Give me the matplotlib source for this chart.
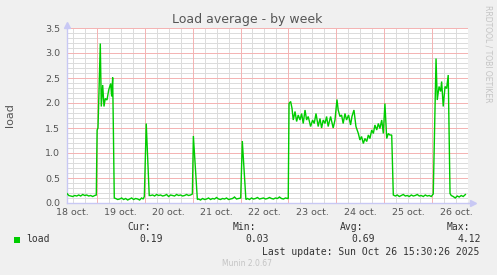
import numpy as np
import pandas as pd
import matplotlib
matplotlib.use('Agg')
import matplotlib.pyplot as plt
import matplotlib.dates as mdates
from matplotlib.patches import Rectangle
from matplotlib.ticker import MultipleLocator, FormatStrFormatter

# ---- data: hours since 2025-10-18 00:00 and load values ----
hours = [
    9.1, 10, 11, 12, 13, 14, 15, 16, 17, 18, 19, 20, 21, 22, 23, 23.8,
    24.2, 24.65, 25.8, 26.3, 27.0, 27.65, 28.3, 29.15, 30.0, 31.0, 31.5, 32.0, 32.8,
    33.5, 34.5, 35.5, 36.5, 37.5, 38.5, 39.5, 40.5, 41.5, 42.5, 43.5, 44.5, 45.5, 46.5, 47.3, 47.85,
    48.8, 50.3,
    51, 52, 53, 54, 55, 56, 57, 58, 59, 60, 61, 62, 63, 64, 65, 66, 67, 68, 69, 70, 71, 71.9,
    72.4, 74.4,
    75, 76, 77, 78, 79, 80, 81, 82, 83, 84, 85, 86, 87, 88, 89, 90, 91, 92, 93, 94, 95, 96.1,
    96.9, 98.7,
    99.5, 100.5, 101.5, 102.5, 103.5, 104.5, 105.5, 106.5, 107.5, 108.5, 109.5, 110.5,
    111.5, 112.5, 113.5, 114.5, 115.5, 116.5, 117.5, 118.5, 119.5, 119.9,
    120.3, 121.1, 121.8, 122.4, 123.3, 124.1, 124.9, 125.8, 126.6, 127.4, 128.3, 129.1,
    129.9, 131.1, 132.1, 132.9, 133.8, 134.9, 135.8, 136.6, 137.4, 138.3, 139.1, 139.9,
    141.1, 142.4, 143.3, 144.3, 144.9, 145.8, 146.6, 147.4, 148.3, 149.1, 150.1, 151.1,
    151.8, 152.8, 153.8, 155.0, 155.8, 156.6, 157.5, 158.3, 159.2, 160.0, 160.8, 161.7,
    162.5, 163.3, 164.2, 165.0, 165.8, 166.7, 167.5, 168.3, 169.2, 170.0, 170.8, 171.7,
    172.5,
    173.5, 174.5, 175.5, 176.5, 177.5, 178.5, 179.5, 180.5, 181.5, 182.5, 183.5, 184.5,
    185.5, 186.5, 187.5, 188.5, 189.5, 190.5, 191.5, 192.5,
    193.9, 194.5, 195.4, 196.2, 196.7, 197.5, 198.4, 199.2, 200.0, 200.9,
    201.5, 202.5, 203.5, 204.5, 205.5, 206.5, 207.5, 208.6,
]
load = [
    0.19, 0.15, 0.14, 0.13, 0.15, 0.14, 0.16, 0.14, 0.17, 0.15, 0.16, 0.14, 0.15, 0.13, 0.15, 0.16,
    1.46, 1.50, 3.19, 1.93, 2.36, 1.93, 2.09, 2.06, 2.26, 2.39, 2.13, 2.51, 0.10,
    0.09, 0.07, 0.08, 0.10, 0.07, 0.09, 0.06, 0.08, 0.10, 0.07, 0.09, 0.08, 0.06, 0.10, 0.08, 0.13,
    1.59, 0.15,
    0.15, 0.16, 0.14, 0.17, 0.15, 0.16, 0.14, 0.15, 0.17, 0.13, 0.16, 0.15, 0.14, 0.17, 0.15, 0.16,
    0.14, 0.15, 0.17, 0.15, 0.16, 0.18,
    1.34, 0.07,
    0.08, 0.06, 0.09, 0.07, 0.08, 0.10, 0.07, 0.09, 0.08, 0.11, 0.08, 0.07, 0.09, 0.08, 0.10, 0.07,
    0.08, 0.09, 0.12, 0.08, 0.09, 0.10,
    1.24, 0.07,
    0.09, 0.07, 0.10, 0.08, 0.09, 0.11, 0.08, 0.09, 0.10, 0.08, 0.09, 0.11,
    0.09, 0.08, 0.10, 0.09, 0.12, 0.09, 0.08, 0.10, 0.09, 0.09,
    1.99, 2.03, 1.89, 1.66, 1.83, 1.63, 1.76, 1.66, 1.79, 1.59, 1.86, 1.66,
    1.73, 1.53, 1.66, 1.59, 1.79, 1.53, 1.69, 1.50, 1.66, 1.59, 1.73, 1.53,
    1.73, 1.50, 1.66, 2.07, 1.86, 1.73, 1.76, 1.59, 1.79, 1.66, 1.76, 1.56,
    1.73, 1.86, 1.53, 1.39, 1.26, 1.33, 1.19, 1.29, 1.23, 1.36, 1.29, 1.46,
    1.39, 1.56, 1.46, 1.59, 1.49, 1.66, 1.39, 1.99, 1.29, 1.39, 1.36, 1.36,
    0.16,
    0.14, 0.16, 0.13, 0.15, 0.17, 0.14, 0.15, 0.13, 0.16, 0.14, 0.15, 0.17,
    0.14, 0.15, 0.13, 0.16, 0.14, 0.15, 0.13, 0.18,
    2.89, 2.06, 2.33, 2.23, 2.43, 1.93, 2.33, 2.29, 2.56, 0.19,
    0.15, 0.13, 0.10, 0.14, 0.12, 0.15, 0.13, 0.17,
]
x_range_hours = [9.13, 209.9]
y_range = [0.0, 3.5]

title = 'Load average - by week'
ylabel = 'load'
legend_name = 'load'
stats_labels = ['Cur:', 'Min:', 'Avg:', 'Max:']
stats_values = ['0.19', '0.03', '0.69', '4.12']
last_update = 'Last update: Sun Oct 26 15:30:26 2025'
version = 'Munin 2.0.67'
watermark = 'RRDTOOL / TOBI OETIKER'

# ---- figure ----
W, H = 497, 275
BG = '#F0F0F0'
GREEN = '#00CC00'
TXT = '#555555'
fig = plt.figure(figsize=(W / 100, H / 100), dpi=100, facecolor=BG)
L, R, T, B = 67, 468, 28, 203
ax = fig.add_axes([L / W, 1 - B / H, (R - L) / W, (B - T) / H])
ax.set_facecolor('white')

start = pd.Timestamp('2025-10-18 00:00')
times = start + pd.to_timedelta(np.array(hours), unit='h')
ax.plot(times, load, color=GREEN, lw=1.0, zorder=4, solid_joinstyle='miter')

xmin = start + pd.Timedelta(hours=x_range_hours[0])
xmax = start + pd.Timedelta(hours=x_range_hours[1])
ax.set_xlim(xmin, xmax)
ax.set_ylim(*y_range)

dot = (0, (1, 1))
red = '#F4B4B4'
grey = '#DCDCDC'
gkw = dict(lw=0.72, linestyle=dot, antialiased=False)

# x: labels at noon, grey grid every 6 h, red lines at midnight
ax.xaxis.set_major_locator(mdates.HourLocator(byhour=[12]))
ax.xaxis.set_major_formatter(mdates.DateFormatter('%d oct.'))
ax.xaxis.set_minor_locator(mdates.HourLocator(byhour=[6, 18]))
ax.grid(True, which='major', axis='x', color=grey, zorder=1, **gkw)
ax.grid(True, which='minor', axis='x', color=grey, zorder=1, **gkw)
for d in pd.date_range(start, xmax, freq='D'):
    if d > xmin:
        ax.axvline(d, color=red, zorder=2, **gkw)

# y: red every 0.5, grey every 0.1
ax.yaxis.set_major_locator(MultipleLocator(0.5))
ax.yaxis.set_minor_locator(MultipleLocator(0.1))
ax.yaxis.set_major_formatter(FormatStrFormatter('%.1f'))
ax.grid(True, which='major', axis='y', color=red, zorder=2, **gkw)
ax.grid(True, which='minor', axis='y', color=grey, zorder=1, **gkw)
ax.set_axisbelow(True)

ax.tick_params(axis='both', which='both', length=0, labelsize=6.8, labelcolor=TXT)
ax.tick_params(axis='y', pad=5)
ax.tick_params(axis='x', pad=3.5)

for s in ['top', 'right']:
    ax.spines[s].set_visible(False)
AX = '#C8C8F4'
for s in ['left', 'bottom']:
    ax.spines[s].set_color(AX)
    ax.spines[s].set_linewidth(1.0)
# axis extensions with arrows
ax.plot([1, 1.012], [0, 0], transform=ax.transAxes, color=AX, lw=1.0, clip_on=False)
ax.plot([0, 0], [1, 1.02], transform=ax.transAxes, color=AX, lw=1.0, clip_on=False)
ax.plot([1.012], [0], transform=ax.transAxes, marker='>', ms=5, color=AX, mec=AX, clip_on=False)
ax.plot([0], [1.02], transform=ax.transAxes, marker='^', ms=5, color=AX, mec=AX, clip_on=False)

# texts
def fx(px):
    return px / W

def fy(py):
    return 1 - py / H

fig.text(fx(247.5), fy(20), title, ha='center', va='center', fontsize=9, color=TXT)
fig.text(fx(10), fy(115), ylabel, rotation=90, ha='center', va='center', fontsize=8, color=TXT)
fig.text(fx(488), fy(53.5), watermark, rotation=270, ha='center', va='center', fontsize=5.5,
         color='#C4C4C4')

mono = 'DejaVu Sans Mono'
MTXT = '#333333'
fig.patches.append(Rectangle((fx(14), fy(242.5)), 6 / W, 6 / H, transform=fig.transFigure,
                             facecolor=GREEN, edgecolor='none'))
fig.text(fx(26.5), fy(239.3), legend_name, ha='left', va='center', fontsize=7, family=mono, color=MTXT)
label_x = [127, 233, 340, 446.7]
value_x = [139, 245, 351.7, 458]
for lx, vx, lab, val in zip(label_x, value_x, stats_labels, stats_values):
    fig.text(fx(lx), fy(227.3), lab, ha='left', va='center', fontsize=7, family=mono, color=MTXT)
    fig.text(fx(vx), fy(239.3), val, ha='left', va='center', fontsize=7, family=mono, color=MTXT)
fig.text(fx(261.7), fy(251.7), last_update, ha='left', va='center', fontsize=7, family=mono, color=MTXT)
fig.text(fx(247.5), fy(264), version, ha='center', va='center', fontsize=5.5, color='#C4C4C4')

fig.savefig('out.png', dpi=100, facecolor=BG)
